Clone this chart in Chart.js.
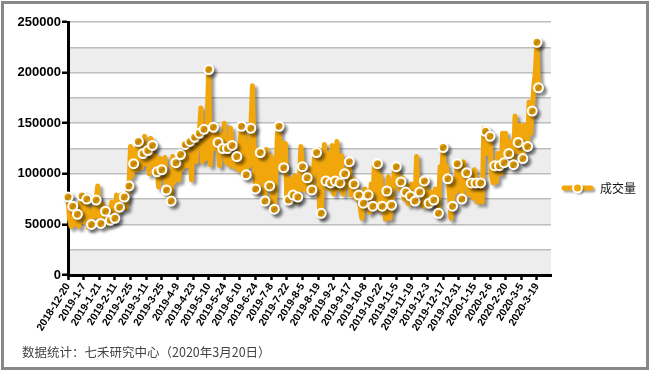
<!DOCTYPE html>
<html>
<head>
<meta charset="utf-8">
<script src="https://cdn.jsdelivr.net/npm/chart.js@4.4.0/dist/chart.umd.min.js"></script>
<style>
    body { margin: 0; background: #fff; }
    #wrap { width: 650px; height: 372px; }
</style>
</head>
<body>
<div id="wrap"><canvas id="chart" width="650" height="372"></canvas></div>
<script>
// Chart data
const seriesName = '成交量';
const sourceNote = '数据统计：七禾研究中心（2020年3月20日）';

// one label every 10 trading days
const tickLabels = [
    '2018-12-20', '2019-1-7', '2019-1-21', '2019-2-11', '2019-2-25', '2019-3-11',
    '2019-3-25', '2019-4-9', '2019-4-23', '2019-5-10', '2019-5-24', '2019-6-10',
    '2019-6-24', '2019-7-8', '2019-7-22', '2019-8-5', '2019-8-19', '2019-9-2',
    '2019-9-17', '2019-10-8', '2019-10-22', '2019-11-5', '2019-11-19', '2019-12-3',
    '2019-12-17', '2019-12-31', '2020-1-15', '2020-2-6', '2020-2-20', '2020-3-5',
    '2020-3-19'
];
const labelEvery = 10;

// daily volume, 2018-12-20 .. 2020-3-20
const volume = [
    77000, 55000, 48000, 68000, 50000, 63000, 60000, 48000, 72000, 78000,
    80000, 52000, 75000, 47000, 62000, 50000, 66000, 58000, 74000, 88000,
    55000, 51000, 70000, 60000, 63000, 50000, 66000, 54000, 72000, 58000,
    56000, 79000, 62000, 67000, 79000, 70000, 77000, 66000, 80000, 88000,
    127000, 98000, 110000, 124000, 104000, 132000, 118000, 106000, 120000, 137000,
    110000, 123000, 100000, 135000, 128000, 108000, 118000, 102000, 87000, 115000,
    104000, 96000, 116000, 84000, 100000, 90000, 73000, 117000, 92000, 111000,
    100000, 94000, 119000, 105000, 112000, 129000, 108000, 125000, 132000, 94000,
    128000, 136000, 112000, 142000, 140000, 165000, 112000, 144000, 115000, 150000,
    203000, 109000, 130000, 146000, 125000, 140000, 131000, 108000, 138000, 125000,
    150000, 112000, 125000, 109000, 145000, 128000, 107000, 120000, 117000, 104000,
    130000, 147000, 100000, 140000, 99000, 130000, 108000, 145000, 187000, 118000,
    85000, 124000, 82000, 121000, 100000, 120000, 73000, 124000, 100000, 88000,
    117000, 64000, 65000, 100000, 140000, 147000, 105000, 131000, 106000, 130000,
    73000, 74000, 95000, 85000, 79000, 98000, 72000, 77000, 92000, 127000,
    107000, 84000, 100000, 96000, 82000, 105000, 84000, 100000, 122000, 121000,
    124000, 58000, 61000, 95000, 129000, 93000, 120000, 85000, 91000, 128000,
    80000, 93000, 132000, 85000, 91000, 118000, 80000, 100000, 88000, 105000,
    112000, 79000, 95000, 90000, 76000, 85000, 79000, 66000, 56000, 71000,
    85000, 76000, 79000, 62000, 90000, 68000, 109000, 95000, 110000, 64000,
    98000, 68000, 80000, 55000, 83000, 97000, 56000, 69000, 85000, 109000,
    107000, 100000, 85000, 92000, 96000, 75000, 82000, 88000, 70000, 78000,
    90000, 76000, 73000, 117000, 80000, 82000, 72000, 68000, 93000, 88000,
    68000, 71000, 82000, 70000, 74000, 85000, 80000, 61000, 107000, 98000,
    126000, 100000, 108000, 95000, 80000, 56000, 68000, 95000, 82000, 110000,
    85000, 103000, 75000, 112000, 88000, 101000, 80000, 96000, 91000, 76000,
    104000, 91000, 72000, 88000, 91000, 72000, 145000, 142000, 120000, 130000,
    137000, 98000, 91000, 108000, 92000, 120000, 108000, 100000, 140000, 111000,
    140000, 118000, 120000, 132000, 108000, 109000, 157000, 122000, 131000, 148000,
    112000, 115000, 148000, 125000, 127000, 171000, 140000, 162000, 186000, 201000,
    230000, 185000
];

const orange = '#f1a70b';
const lastIndex = volume.length - 1;

// Background bands, line shadow, legend, footer and frame
const chartDecor = {
    id: 'chartDecor',
    beforeDraw(chart) {
        const { ctx, chartArea, scales } = chart;
        ctx.save();
        ctx.fillStyle = '#fff';
        ctx.fillRect(0, 0, chart.width, chart.height);
        ctx.fillStyle = '#ededed';
        for (let v = 0; v < 250000; v += 50000) {
            const top = scales.y.getPixelForValue(v + 25000);
            const bottom = scales.y.getPixelForValue(v);
            ctx.fillRect(chartArea.left, top, chartArea.right - chartArea.left, bottom - top);
        }
        ctx.restore();
    },
    beforeDatasetsDraw(chart) {
        const ctx = chart.ctx;
        ctx.save();
        ctx.shadowColor = 'rgba(0, 0, 0, 0.4)';
        ctx.shadowOffsetX = 3;
        ctx.shadowOffsetY = 3;
        ctx.shadowBlur = 3;
    },
    afterDatasetsDraw(chart) {
        chart.ctx.restore();
    },
    afterDraw(chart) {
        const ctx = chart.ctx;
        ctx.save();

        // legend
        ctx.shadowColor = 'rgba(0, 0, 0, 0.35)';
        ctx.shadowOffsetX = 2;
        ctx.shadowOffsetY = 2;
        ctx.shadowBlur = 2;
        ctx.strokeStyle = orange;
        ctx.lineWidth = 5;
        ctx.lineCap = 'round';
        ctx.beginPath();
        ctx.moveTo(564, 188);
        ctx.lineTo(591, 188);
        ctx.stroke();
        ctx.beginPath();
        ctx.arc(577.5, 188, 4.5, 0, Math.PI * 2);
        ctx.fillStyle = orange;
        ctx.fill();
        ctx.shadowColor = 'transparent';
        ctx.lineWidth = 2;
        ctx.strokeStyle = '#fff';
        ctx.stroke();

        ctx.fillStyle = '#111';
        ctx.font = '12px "Noto Sans CJK SC"';
        ctx.textBaseline = 'middle';
        ctx.fillText(seriesName, 600, 188);

        // source note
        ctx.fillStyle = '#444';
        ctx.font = '12.5px "Noto Sans CJK SC"';
        ctx.fillText(sourceNote, 22, 352);

        // frame
        ctx.strokeStyle = '#888';
        ctx.lineWidth = 3;
        ctx.strokeRect(2.5, 2.5, 645, 366);
        ctx.restore();
    }
};

const config = {
    type: 'line',
    data: {
        datasets: [{
            label: seriesName,
            data: volume.map((v, i) => ({ x: i, y: v })),
            borderColor: orange,
            borderWidth: 5,
            borderJoinStyle: 'round',
            tension: 0,
            clip: false,
            pointRadius: ctx => (ctx.dataIndex % 3 === 0 || ctx.dataIndex === lastIndex) ? 4.5 : 0,
            pointBackgroundColor: orange,
            pointBorderColor: '#fff',
            pointBorderWidth: 2
        }]
    },
    options: {
        responsive: false,
        animation: false,
        layout: {
            padding: { left: 0, top: 22, right: 99, bottom: 0 }
        },
        plugins: {
            legend: { display: false },
            tooltip: { enabled: false }
        },
        scales: {
            x: {
                type: 'linear',
                min: 0,
                max: 309,
                // one tick per date label
                afterBuildTicks: scale => {
                    scale.ticks = tickLabels.map((_, i) => ({ value: i * labelEvery }));
                },
                afterFit: scale => { scale.height = 97; },
                border: { color: '#000', width: 3 },
                grid: {
                    drawOnChartArea: false,
                    tickLength: 5,
                    tickColor: '#000',
                    tickWidth: 2.5
                },
                ticks: {
                    autoSkip: false,
                    minRotation: 58,
                    maxRotation: 58,
                    padding: 1,
                    color: '#000',
                    font: { family: 'Liberation Sans', size: 10.5, weight: 'bold' },
                    callback: value => tickLabels[Math.round(value / labelEvery)] || ''
                }
            },
            y: {
                min: 0,
                max: 250000,
                afterFit: scale => { scale.width = 68; },
                border: { color: '#000', width: 3 },
                grid: {
                    color: '#bdbdbd',
                    lineWidth: 1.5,
                    tickLength: 6,
                    tickWidth: 2.5,
                    tickColor: ctx => (ctx.tick && ctx.tick.value % 50000 === 0) ? '#000' : 'rgba(0,0,0,0)'
                },
                ticks: {
                    stepSize: 25000,
                    padding: 1,
                    color: '#000',
                    font: { family: 'Liberation Sans', size: 13, weight: 'bold' },
                    callback: value => value % 50000 === 0 ? value : ''
                }
            }
        }
    },
    plugins: [chartDecor]
};

new Chart(document.getElementById('chart').getContext('2d'), config);
</script>
</body>
</html>
